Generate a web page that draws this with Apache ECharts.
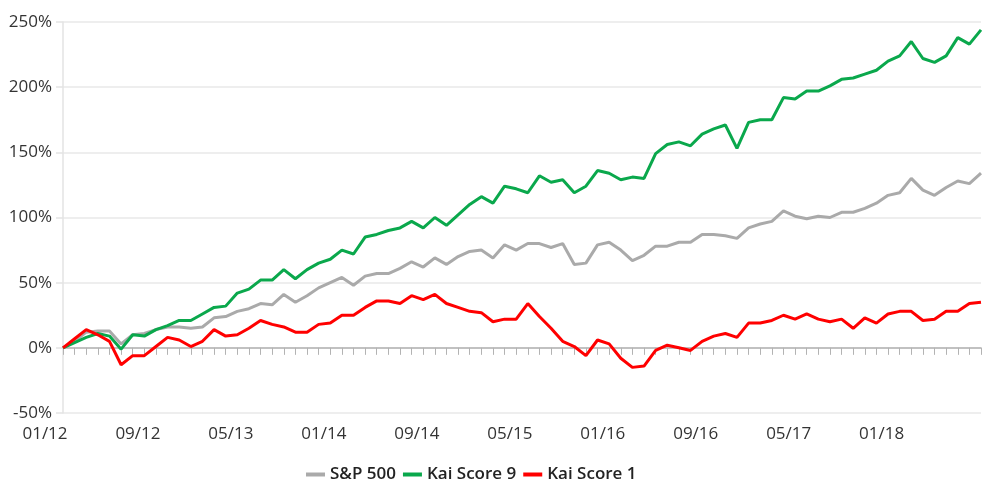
<!DOCTYPE html>
<html>
<head>
<meta charset="utf-8">
<script src="https://cdn.jsdelivr.net/npm/echarts@6/dist/echarts.min.js"></script>
<style>html,body{margin:0;padding:0;background:#fff}#c{width:1000px;height:500px}</style>
</head>
<body>
<div id="c"></div>
<script>
var categories = [
 "01/12","02/12","03/12","04/12","05/12","06/12","07/12","08/12","09/12","10/12","11/12","12/12",
 "01/13","02/13","03/13","04/13","05/13","06/13","07/13","08/13","09/13","10/13","11/13","12/13",
 "01/14","02/14","03/14","04/14","05/14","06/14","07/14","08/14","09/14","10/14","11/14","12/14",
 "01/15","02/15","03/15","04/15","05/15","06/15","07/15","08/15","09/15","10/15","11/15","12/15",
 "01/16","02/16","03/16","04/16","05/16","06/16","07/16","08/16","09/16","10/16","11/16","12/16",
 "01/17","02/17","03/17","04/17","05/17","06/17","07/17","08/17","09/17","10/17","11/17","12/17",
 "01/18","02/18","03/18","04/18","05/18","06/18","07/18","08/18"
];
var sp500 = [
 0,5,12,13,13,3,10,11,14,16,16,15,16,23,24,28,30,34,33,41,35,40,46,50,
 54,48,55,57,57,61,66,62,69,64,70,74,75,69,79,75,80,80,77,80,64,65,79,81,
 75,67,71,78,78,81,81,87,87,86,84,92,95,97,105,101,99,101,100,104,104,107,
 111,117,119,130,121,117,123,128,126,134
];
var kai9 = [
 0,4,8,11,9,-1,10,9,14,17,21,21,26,31,32,42,45,52,52,60,53,60,65,68,
 75,72,85,87,90,92,97,92,100,94,102,110,116,111,124,122,119,132,127,129,119,124,136,134,
 129,131,130,149,156,158,155,164,168,171,153,173,175,175,192,191,197,197,201,206,207,210,
 213,220,224,235,222,219,224,238,233,244
];
var kai1 = [
 0,7,14,10,5,-13,-6,-6,1,8,6,1,5,14,9,10,15,21,18,16,12,12,18,19,
 25,25,31,36,36,34,40,37,41,34,31,28,27,20,22,22,34,24,15,5,1,-6,6,3,
 -8,-15,-14,-2,2,0,-2,5,9,11,8,19,19,21,25,22,26,22,20,22,15,23,
 19,26,28,28,21,22,28,28,34,35
];
var yTicks = { min: -50, max: 250, interval: 50 };

var chart = echarts.init(document.getElementById('c'), null, { renderer: 'canvas' });
var FONT = 'Open Sans';
chart.setOption({
  animation: false,
  backgroundColor: '#ffffff',
  grid: { left: 63, right: 19, top: 22, bottom: 87, outerBoundsMode: 'none' },
  legend: {
    left: 301, top: 461,
    icon: 'rect', itemWidth: 19, itemHeight: 4, itemGap: 7,
    textStyle: { fontFamily: FONT, fontSize: 17, fontWeight: 600, color: '#222' },
    data: ['S&P 500', 'Kai Score 9', 'Kai Score 1']
  },
  xAxis: [
    {
      type: 'category', data: categories, boundaryGap: false, position: 'bottom',
      axisLine: { show: false, onZero: false }, axisTick: { show: false },
      axisLabel: { interval: 7, fontFamily: FONT, fontSize: 17, color: '#333', margin: 13, padding: [0, 36, 0, 0] },
      splitLine: { show: false }
    },
    {
      type: 'category', data: categories, boundaryGap: false, position: 'bottom',
      axisLine: { show: true, onZero: true, lineStyle: { color: '#b3b3b3', width: 1.5 } },
      axisTick: { show: true, interval: 0, length: 7, lineStyle: { color: '#b3b3b3', width: 1 } },
      axisLabel: { show: false }, splitLine: { show: false }
    }
  ],
  yAxis: {
    type: 'value', min: yTicks.min, max: yTicks.max, interval: yTicks.interval,
    axisLine: { show: true, lineStyle: { color: '#e3e3e3', width: 1.5 } },
    axisTick: { show: true, length: 7, lineStyle: { color: '#e3e3e3', width: 1.5 } },
    axisLabel: { formatter: '{value}%', fontFamily: FONT, fontSize: 17, color: '#333', margin: 11 },
    splitLine: { lineStyle: { color: '#e8e8e8', width: 1.5 } }
  },
  series: [
    { name: 'S&P 500', type: 'line', data: sp500, xAxisIndex: 0, symbol: 'none', lineStyle: { color: '#aaaaaa', width: 3 }, itemStyle: { color: '#aaaaaa' } },
    { name: 'Kai Score 9', type: 'line', data: kai9, xAxisIndex: 0, symbol: 'none', lineStyle: { color: '#0aa84c', width: 3 }, itemStyle: { color: '#0aa84c' } },
    { name: 'Kai Score 1', type: 'line', data: kai1, xAxisIndex: 0, symbol: 'none', lineStyle: { color: '#ff0000', width: 3 }, itemStyle: { color: '#ff0000' } }
  ]
});
</script>
</body>
</html>
